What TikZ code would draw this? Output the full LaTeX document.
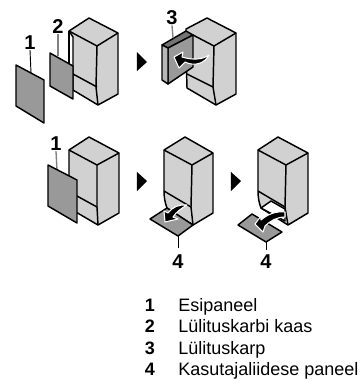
\documentclass[tikz,border=0pt]{standalone}
\usepackage{fontspec}
\setmainfont{Liberation Sans}
\definecolor{cabgray}{gray}{0.82}
\definecolor{pangray}{gray}{0.6}
\tikzset{
    cabinet/.style={draw=black,line width=1.1pt,line join=round,fill=cabgray},
    panel/.style={draw=black,line width=1.1pt,line join=round,fill=pangray},
    edge/.style={draw=black,line width=1.1pt,line join=round},
    leader/.style={draw=black,line width=.7pt},
    leadergray/.style={draw=black!50,line width=1pt},
    turn/.style={fill=black},
    swing/.style={draw=white,line width=.8pt,fill=black,line join=round},
    callout/.style={font=\bfseries\fontsize{15}{15}\selectfont,inner sep=0pt},
    keyno/.style={font=\bfseries\fontsize{13.5}{13.5}\selectfont,inner sep=0pt},
    keytext/.style={font=\fontsize{13.5}{13.5}\selectfont,inner sep=0pt,anchor=base west},
}
\begin{document}
\begin{tikzpicture}[x=0.75pt,y=-0.75pt]
    \useasboundingbox (0,0) rectangle (363,380);
    % first row
    \filldraw[cabinet] (69,31) -- (89,18) -- (118,33) -- (118,94) -- (98,105) -- (73,90) -- (73,37) -- cycle;
    \draw[edge] (69,31) -- (97,46) -- (118,33);
    \draw[edge] (97,46) -- (96,87) -- (98,105);
    \draw[edge] (73,74) -- (97,87);
    \draw[edge] (69,31) -- (69,65);
    \node[callout] (a1) at (30,43) {1};
    \coordinate (a1end) at (31,73);
    \draw[leader] (a1.south) -- (a1end);
    \filldraw[panel] (16,65) -- (44,80) -- (44,123) -- (16,106) -- cycle;
    \node[callout] (a2) at (58,27) {2};
    \coordinate (a2end) at (58,56);
    \draw[leadergray] (a2.south) -- (a2end);
    \filldraw[panel] (50,53) -- (73,66) -- (73,99) -- (50,86) -- cycle;
    % second picture
    \fill[turn] (137,52) -- (147,62) -- (137,71) -- cycle;
    \filldraw[cabinet] (186,29) -- (207,18) -- (236,33) -- (236,94) -- (216,105) -- (187,88) -- (186,50) -- cycle;
    \draw[edge] (193,35) -- (214,46) -- (236,33);
    \draw[edge] (214,46) -- (213,87) -- (216,105);
    \draw[edge] (187,74) -- (213,87);
    \filldraw[panel,fill=black!55] (162,45) -- (186,31) -- (193,35) -- (168,48) -- cycle;
    \filldraw[panel] (168,48) -- (193,35) -- (193,67) -- (168,84) -- cycle;
    \filldraw[panel,fill=black!28] (162,45) -- (168,48) -- (168,84) -- (162,80) -- cycle;
    \node[callout] (a3) at (172,18) {3};
    \coordinate (a3end) at (173,38);
    \draw[leadergray] (a3.south) -- (a3end);
    \filldraw[swing] (174,57) -- (183,52) -- (182,57) .. controls (192,60) and (202,60) .. (209,55)
        .. controls (205,63) and (195,67) .. (185,62) -- (179,68) -- cycle;
    % second row
    \filldraw[cabinet] (69,150) -- (89,137) -- (119,153) -- (119,213) -- (98,225) -- (69,208) -- cycle;
    \draw[edge] (69,150) -- (97,165) -- (119,153);
    \draw[edge] (97,165) -- (97,207) -- (98,225);
    \draw[edge] (77,196) -- (97,207);
    \node[callout] (b1) at (56,144) {1};
    \coordinate (b1end) at (57,170);
    \draw[leadergray] (b1.south) -- (b1end);
    \filldraw[panel] (48,165) -- (77,180) -- (77,223) -- (48,206) -- cycle;
    % fourth picture
    \fill[turn] (137,172) -- (147,181) -- (137,191) -- cycle;
    \filldraw[cabinet] (164,150) -- (185,137) -- (213,153) -- (213,213) -- (193,225) -- (167,208) .. controls (165,203) and (164,197) .. (164,191) -- cycle;
    \draw[edge] (164,150) -- (192,165) -- (213,153);
    \draw[edge] (192,165) -- (191,207) -- (193,225);
    \draw[edge] (164,191) -- (191,207);
    \filldraw[panel] (150,219) -- (167,208) -- (193,225) -- (178,236) -- cycle;
    \node[callout] (b4) at (178,262) {4};
    \coordinate (b4start) at (178,236);
    \coordinate (b4end) at (178,248);
    \draw[leader] (b4start) -- (b4end);
    \filldraw[swing] (165,222) -- (164,211) -- (168,213) .. controls (172,207) and (180,204) .. (187,205)
        .. controls (182,208) and (176,212) .. (173,217) -- (178,219) -- cycle;
    % fifth picture
    \fill[turn] (231,172) -- (241,181) -- (231,191) -- cycle;
    \filldraw[cabinet] (258,150) -- (278,137) -- (308,153) -- (308,213) -- (288,225) -- (261,208) .. controls (259,203) and (258,197) .. (258,191) -- cycle;
    \draw[edge] (258,150) -- (286,165) -- (308,153);
    \draw[edge] (286,165) -- (285,207) -- (288,225);
    \draw[edge] (258,191) -- (285,207);
    \filldraw[edge,fill=white] (261,208) -- (271,201) -- (285,209) -- (285,221) -- cycle;
    \filldraw[panel] (238,225) -- (252,214) -- (282,232) -- (266,242) -- cycle;
    \node[callout] (c4) at (266,262) {4};
    \coordinate (c4start) at (266,242);
    \coordinate (c4end) at (266,250);
    \draw[leader] (c4start) -- (c4end);
    \filldraw[swing] (255,224) -- (261,216) -- (261,220) .. controls (268,214) and (276,211) .. (285,212)
        -- (285,217) .. controls (277,217) and (270,221) .. (265,226) -- (263,232) -- cycle;
    % key
    \node[keyno] (k1) at (150,305.5) {1};
    \node[keyno] (k2) at (150,326.7) {2};
    \node[keyno] (k3) at (150,348) {3};
    \node[keyno] (k4) at (150,369) {4};
    \node[keytext] (t1) at (178,311.5) {Esipaneel};
    \node[keytext] (t2) at (178,332.7) {Lülituskarbi kaas};
    \node[keytext] (t3) at (178,354) {Lülituskarp};
    \node[keytext] (t4) at (178,375) {Kasutajaliidese paneel};
\end{tikzpicture}
\end{document}
